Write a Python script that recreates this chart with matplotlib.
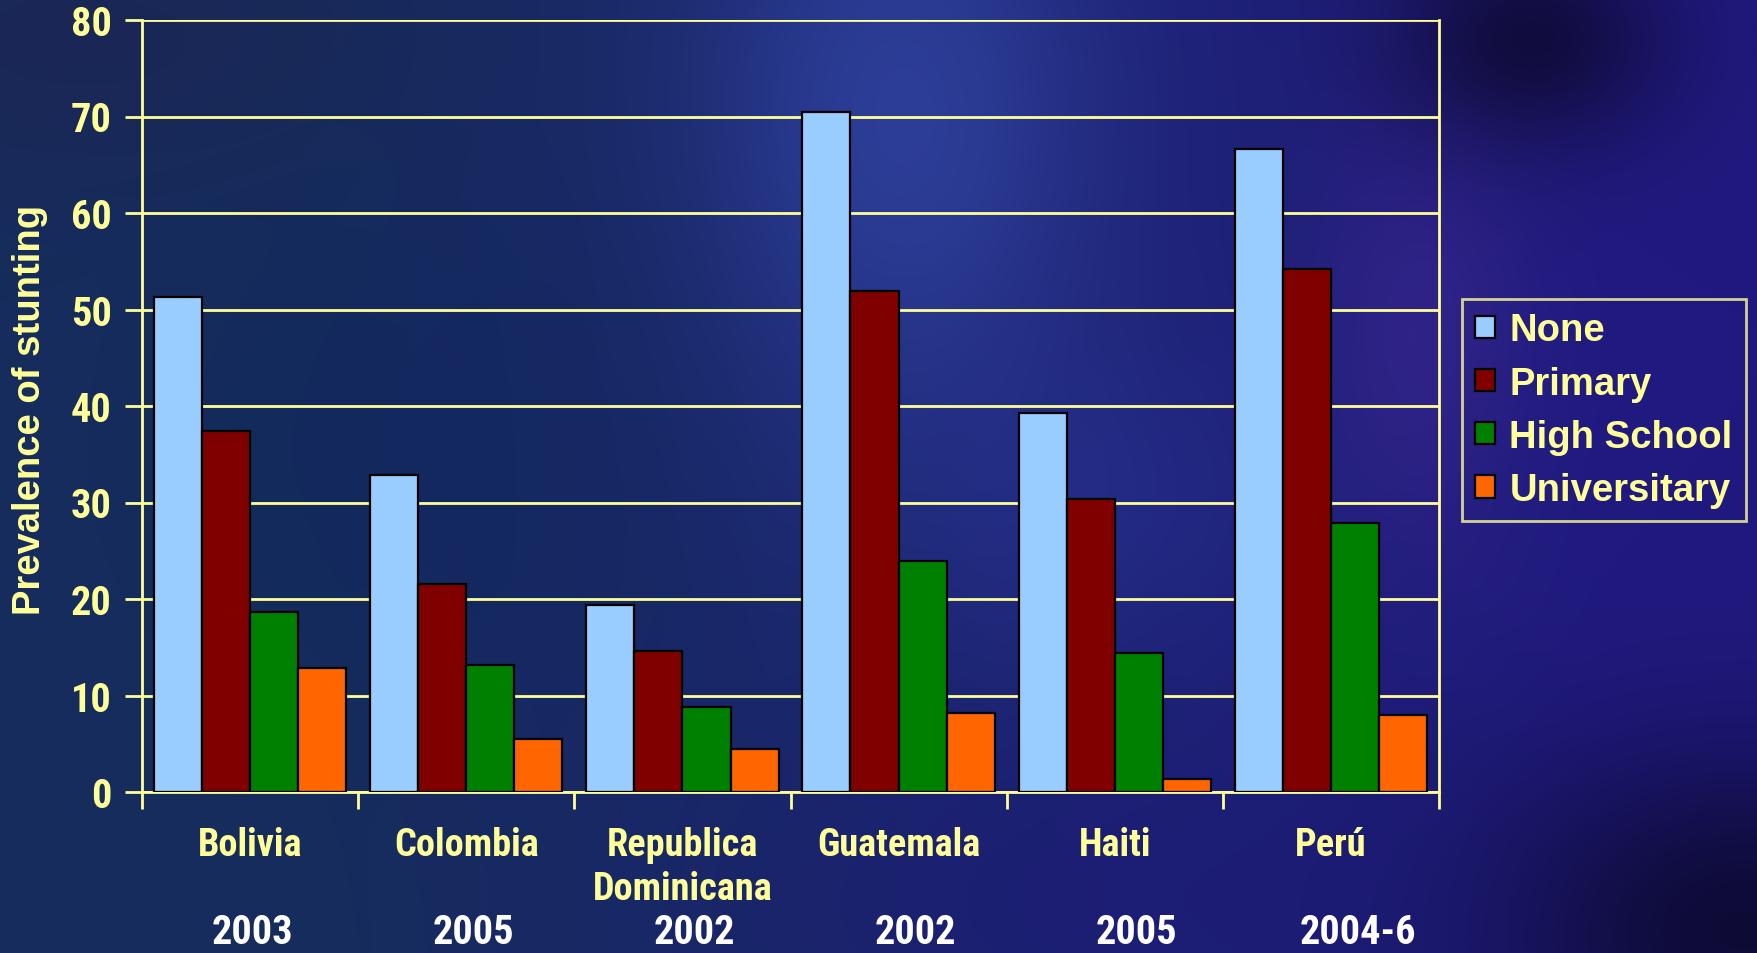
import numpy as np
import matplotlib
matplotlib.use("Agg")
import matplotlib.pyplot as plt
from matplotlib.patches import Patch

countries = ["Bolivia", "Colombia", "Republica\nDominicana", "Guatemala", "Haiti", "Perú"]
years = ["2003", "2005", "2002", "2002", "2005", "2004-6"]
series_names = ["None", "Primary", "High School", "Universitary"]
none_vals = [51.3, 32.8, 19.4, 70.5, 39.3, 66.6]
primary_vals = [37.4, 21.6, 14.6, 51.9, 30.4, 54.2]
highschool_vals = [18.7, 13.2, 8.8, 23.9, 14.4, 27.9]
university_vals = [12.9, 5.5, 4.5, 8.2, 1.3, 8.0]
series_colors = ["#99CCFF", "#800000", "#008000", "#FF6600"]
y_ticks = [0, 10, 20, 30, 40, 50, 60, 70, 80]

W, H = 1757, 954
fig = plt.figure(figsize=(W / 100, H / 100), dpi=100)

# slide-style background: navy gradient with soft glows
yy, xx = np.mgrid[0:H, 0:W].astype(float)
bg = np.zeros((H, W, 3))
left_c = np.array([22, 45, 92]) / 255
right_c = np.array([32, 26, 128]) / 255
t = np.clip((xx - 300) / 1300, 0, 1)[..., None]
bg[:] = left_c * (1 - t) + right_c * t

def glow(cx, cy, sx, sy, color, amount):
    g = np.exp(-(((xx - cx) / sx) ** 2 + ((yy - cy) / sy) ** 2))[..., None]
    return g * amount, np.array(color) / 255

for cx, cy, sx, sy, col, amt in [
    (900, 120, 200, 330, (48, 66, 160), 0.85),
    (1080, 500, 200, 160, (42, 52, 150), 0.45),
    (1420, 330, 110, 220, (60, 40, 145), 0.55),
    (1530, 40, 140, 110, (14, 10, 50), 0.85),
    (1740, 930, 260, 180, (10, 8, 40), 0.85),
    (80, 40, 320, 140, (30, 35, 82), 0.55),
    (400, 450, 280, 280, (16, 38, 95), 0.5),
    (1150, 900, 320, 120, (28, 26, 118), 0.5),
]:
    a, c = glow(cx, cy, sx, sy, col, amt)
    bg = bg * (1 - a) + c * a

bg_ax = fig.add_axes([0, 0, 1, 1], zorder=-10)
bg_ax.imshow(bg, aspect="auto", extent=[0, 1, 0, 1], origin="upper")
bg_ax.axis("off")

yellow = "#FFFF99"
narrow = ["Roboto Condensed", "DejaVu Sans"]
wide = ["Liberation Sans", "DejaVu Sans"]

# plot area in pixels
x0, x1 = 142, 1439
ytop, ybot = 21, 793
ax = fig.add_axes([x0 / W, 1 - ybot / H, (x1 - x0) / W, (ybot - ytop) / H])
ax.patch.set_alpha(0)

n = len(countries)
x = np.arange(n)
bw = 0.2225
all_vals = [none_vals, primary_vals, highschool_vals, university_vals]
for k, (vals, col, name) in enumerate(zip(all_vals, series_colors, series_names)):
    ax.bar(x + (k - 1.5) * bw, vals, width=bw, color=col, edgecolor="black",
           linewidth=1.6, label=name, zorder=3)

ax.set_xlim(-0.5, n - 0.5)
ax.set_ylim(0, 80)
ax.set_yticks(y_ticks)
ax.yaxis.grid(True, color=yellow, linewidth=2, zorder=1)
ax.set_axisbelow(True)
for s in ax.spines.values():
    s.set_color(yellow)
    s.set_linewidth(2)
ax.spines["top"].set_visible(False)

ax.tick_params(axis="y", colors=yellow, length=12, width=2, pad=10, labelsize=29)
for lab in ax.get_yticklabels():
    lab.set_fontfamily(narrow)
    lab.set_fontweight("bold")

ax.set_xticks(np.arange(n + 1) - 0.5)
ax.set_xticklabels([])
ax.tick_params(axis="x", colors=yellow, length=12, width=2)

for i, c in enumerate(countries):
    ax.text(i, -3.5, c, ha="center", va="top", color=yellow, fontsize=27.5,
            fontweight="bold", family=narrow, linespacing=1.25)
for i, yr in enumerate(years):
    ax.text(i * 1.023 + 0.01, -14.5, yr, ha="center", va="center", color="white",
            fontsize=29, fontweight="bold", family=narrow, clip_on=False)

fig.text(30 / W, 1 - 410 / H, "Prevalence of stunting", rotation=90,
         ha="center", va="center", color=yellow, fontsize=27.5,
         fontweight="bold", family=wide)

handles = [Patch(facecolor=c, edgecolor="black", linewidth=1.6) for c in series_colors]
leg = fig.legend(handles, series_names, loc="upper left",
                 bbox_to_anchor=(1462 / W, 1 - 300 / H), frameon=True,
                 prop={"family": wide, "weight": "bold", "size": 27.5},
                 handlelength=0.52, handleheight=0.52, handletextpad=0.37,
                 labelspacing=0.45, borderpad=0.35, borderaxespad=0)
frame = leg.get_frame()
frame.set_facecolor("none")
frame.set_edgecolor(yellow)
frame.set_linewidth(2)
frame.set_boxstyle("square", pad=0)
for txt in leg.get_texts():
    txt.set_color(yellow)

fig.savefig("out.png", dpi=100)
